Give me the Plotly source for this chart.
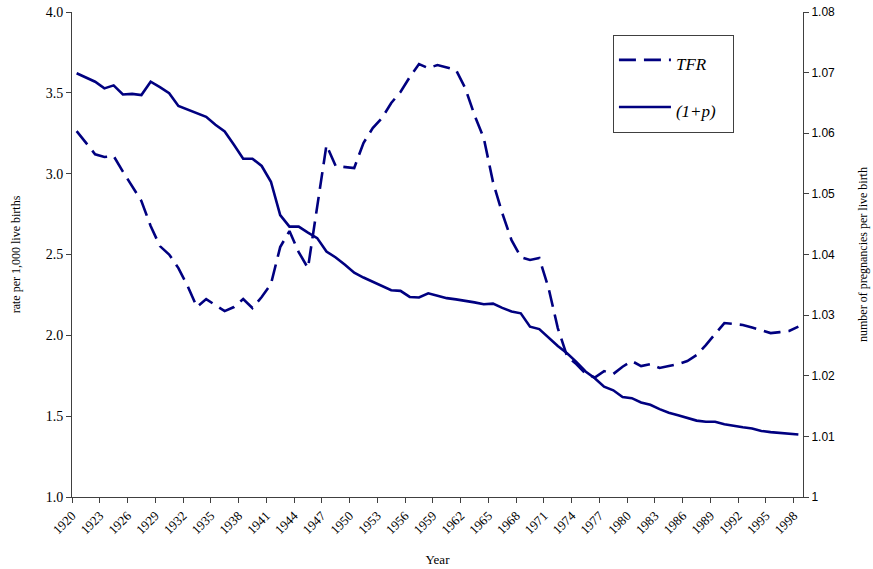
import plotly.graph_objects as go

years = list(range(1920, 1999))

tfr = [
    3.263, 3.189, 3.120, 3.103, 3.109, 3.013, 2.920, 2.831, 2.676, 2.552,
    2.500, 2.416, 2.305, 2.175, 2.224, 2.187, 2.150, 2.175, 2.224, 2.169,
    2.237, 2.317, 2.546, 2.645, 2.515, 2.416, 2.812, 3.177, 3.047, 3.041,
    3.035, 3.190, 3.282, 3.344, 3.437, 3.505, 3.597, 3.678, 3.653, 3.672,
    3.656, 3.641, 3.529, 3.362, 3.220, 2.948, 2.756, 2.589, 2.484, 2.466,
    2.478, 2.293, 2.045, 1.872, 1.822, 1.764, 1.739, 1.779, 1.761, 1.806,
    1.841, 1.810, 1.822, 1.798, 1.810, 1.822, 1.841, 1.878, 1.940, 2.008,
    2.076, 2.070, 2.064, 2.048, 2.033, 2.014, 2.020, 2.027, 2.054,
]

one_plus_p = [
    1.0699, 1.0692, 1.0685, 1.0674, 1.0679, 1.0664, 1.0665, 1.0663, 1.0685, 1.0676,
    1.0666, 1.0645, 1.0639, 1.0633, 1.0627, 1.0614, 1.0603, 1.0581, 1.0558, 1.0558,
    1.0546, 1.0520, 1.0465, 1.0446, 1.0446, 1.0436, 1.0427, 1.0405, 1.0395, 1.0383,
    1.0370, 1.0362, 1.0355, 1.0348, 1.0341, 1.0340, 1.0330, 1.0329, 1.0336, 1.0332,
    1.0328, 1.0326, 1.0324, 1.0321, 1.0318, 1.0319, 1.0312, 1.0306, 1.0303, 1.0281,
    1.0277, 1.0263, 1.0249, 1.0237, 1.0223, 1.0207, 1.0196, 1.0182, 1.0176, 1.0165,
    1.0163, 1.0156, 1.0152, 1.0145, 1.0139, 1.0135, 1.0130, 1.0126, 1.0124, 1.0124,
    1.0120, 1.0117, 1.0115, 1.0113, 1.0109, 1.0107, 1.0106, 1.0105, 1.0103,
]

tick_years = list(range(1920, 1999, 3))

NAVY = "#000080"
SERIF = "Times New Roman, serif"
SANS = "Arial, sans-serif"


def legend_label(text):
    # big legend font gives tall rows; the span keeps the visible text small
    return '<span style="font-size:17px"><i>%s</i></span>' % text


fig = go.Figure()
fig.add_trace(go.Scatter(
    x=years, y=tfr, name=legend_label("TFR" + "&nbsp;" * 5), mode="lines", legendgroup="a",
    line=dict(color=NAVY, width=2.6, dash="17px,8px"),
))
fig.add_trace(go.Scatter(
    x=years, y=one_plus_p, name=legend_label("(1+p)"), mode="lines", legendgroup="b",
    yaxis="y2", line=dict(color=NAVY, width=2.6),
))

axis_line = dict(showline=True, linecolor="#404040", linewidth=1, showgrid=False,
                 zeroline=False, ticks="outside", ticklen=5, tickcolor="#404040",
                 automargin=False)

fig.update_layout(
    width=873, height=569,
    margin=dict(l=72, r=70, t=12, b=72),
    plot_bgcolor="white", paper_bgcolor="white",
    font=dict(family=SERIF, color="black"),
    xaxis=dict(
        range=[1919.5, 1998.5],
        tickvals=[y - 0.5 for y in tick_years],
        ticktext=[str(y) for y in tick_years],
        tickangle=-45, tickfont=dict(family=SERIF, size=13),
        title=dict(text="Year", font=dict(family=SERIF, size=13), standoff=18),
        **axis_line,
    ),
    yaxis=dict(
        range=[1, 4], dtick=0.5, tickformat=".1f",
        tickfont=dict(family=SERIF, size=14),
        title=dict(text="rate per 1,000 live births", font=dict(family=SERIF, size=12), standoff=22),
        **axis_line,
    ),
    yaxis2=dict(
        range=[1, 1.08], dtick=0.01, overlaying="y", side="right",
        tickfont=dict(family=SANS, size=12),
        title=dict(text="number of pregnancies per live birth", font=dict(family=SERIF, size=12), standoff=24),
        **axis_line,
    ),
    legend=dict(
        x=0.740, y=0.953, xanchor="left", yanchor="top",
        bordercolor="#404040", borderwidth=1, bgcolor="white",
        font=dict(family=SERIF, size=27), tracegroupgap=9, itemwidth=52,
    ),
)

# drop the default 8px body margin so the figure sits at the window corner
fig.write_html("out.html", config={"displayModeBar": False},
               post_script="document.body.style.margin = '0';")
